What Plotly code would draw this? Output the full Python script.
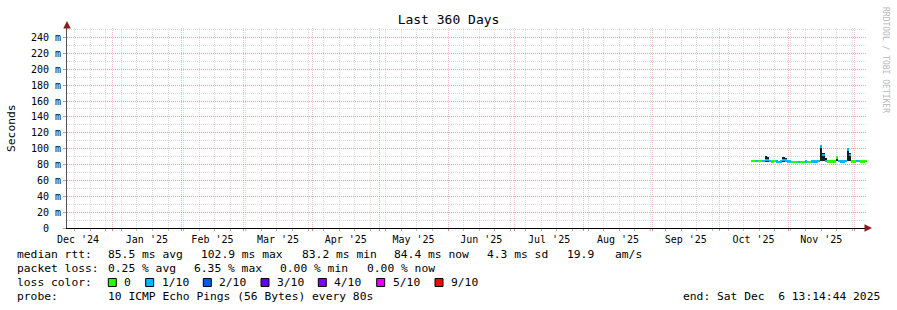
import plotly.graph_objects as go
import pandas as pd

# ---------------- data ----------------
range_start = "2024-12-11 13:14:44"
range_end = "2025-12-06 13:14:44"
first_sample = "2025-10-16"          # one consolidated sample per day

median_ms = [84.3, 84.5, 84.2, 84.6, 84.4, 84.1, 86.0, 85.5, 84.2, 84.0,
             84.3, 83.6, 83.5, 84.0, 86.0, 85.2, 84.0, 83.6, 83.4, 83.3,
             83.2, 83.5, 83.3, 83.4, 83.6, 83.3, 83.5, 83.6, 84.0, 83.8,
             84.4, 102.9, 92.0, 84.3, 83.8, 83.6, 83.9, 84.0, 89.0, 84.2,
             84.0, 83.8, 84.2, 99.0, 92.0, 84.0, 83.8, 84.1, 84.3, 83.9,
             84.0, 84.4]
loss_tenths = [0, 0, 1, 0, 0, 1, 1, 1, 1, 0,
               0, 1, 1, 1, 1, 1, 1, 1, 0, 0,
               0, 1, 0, 0, 1, 0, 0, 1, 1, 1,
               1, 1, 1, 1, 0, 0, 0, 0, 0, 1,
               1, 1, 1, 1, 1, 0, 0, 1, 1, 0,
               0, 0]
smoke_lo_ms = [83.6, 83.8, 83.5, 83.9, 83.7, 83.4, 83.2, 83.3, 83.5, 83.3,
               83.6, 82.9, 82.8, 83.3, 83.4, 83.4, 83.3, 82.9, 82.7, 82.6,
               82.5, 82.8, 82.6, 82.7, 82.9, 82.6, 82.8, 82.9, 83.3, 83.1,
               83.7, 84.0, 84.0, 83.6, 83.1, 82.9, 83.2, 83.3, 83.8, 83.5,
               83.3, 83.1, 83.5, 84.0, 84.0, 83.3, 83.1, 83.4, 83.6, 83.2,
               83.3, 83.7]
smoke_hi_ms = [85.0, 85.2, 84.9, 85.3, 85.1, 84.8, 90.6, 90.0, 84.9, 84.7,
               85.0, 84.3, 84.2, 84.7, 89.0, 88.0, 84.7, 84.3, 84.1, 84.0,
               83.9, 84.2, 84.0, 84.1, 84.3, 84.0, 84.2, 84.3, 84.7, 84.5,
               85.1, 104.5, 94.0, 88.0, 84.5, 84.3, 84.6, 84.7, 90.5, 84.9,
               84.7, 84.5, 84.9, 100.5, 94.0, 84.7, 84.5, 84.8, 85.0, 84.6,
               84.7, 85.1]

loss_levels = ["0", "1/10", "2/10", "3/10", "4/10", "5/10", "9/10"]
loss_level_tenths = [0, 1, 2, 3, 4, 5, 9]
loss_colors = ["#26ff00", "#00b8ff", "#0059ff", "#5e00ff", "#7e00ff", "#dd00ff", "#ff0000"]

y_tick_vals = [0, 20, 40, 60, 80, 100, 120, 140, 160, 180, 200, 220, 240]
y_tick_text = ["0\u00a0\u00a0"] + [f"{v} m" for v in y_tick_vals[1:]]

rtt_stats = ["85.5 ms avg", "102.9 ms max", "83.2 ms min", "84.4 ms now", "4.3 ms sd", "19.9", "am/s"]
loss_stats = ["0.25 % avg", "6.35 % max", "0.00 % min", "0.00 % now"]
probe_text = "10 ICMP Echo Pings (56 Bytes) every 80s"
end_text = "end: Sat Dec\u00a0\u00a06 13:14:44 2025"

# ---------------- layout helpers ----------------
W, H = 897, 310
PL, PR, PT, PB = 67, 867, 28, 228     # plot area in pixels


def px(x):
    return (x - PL) / (PR - PL)


def py(y):
    return (PB - y) / (PB - PT)


MONO = "DejaVu Sans Mono"
DAY_MS = 86400000

times = pd.date_range(first_sample, periods=len(median_ms), freq="D")
color_of = dict(zip(loss_level_tenths, loss_colors))

band = 3.0
fig = go.Figure()
fig.add_trace(go.Bar(
    x=times, base=smoke_lo_ms,
    y=[h - l for h, l in zip(smoke_hi_ms, smoke_lo_ms)],
    width=DAY_MS * 1.02, marker=dict(color="#1c1c1c", line=dict(width=0)),
    hoverinfo="skip"))
fig.add_trace(go.Bar(
    x=times, base=[m - band / 2 for m in median_ms], y=[band] * len(median_ms),
    width=DAY_MS * 1.02,
    marker=dict(color=[color_of[l] for l in loss_tenths], line=dict(width=0)),
    customdata=median_ms, hovertemplate="%{customdata} ms<extra></extra>"))

grid_major = "rgba(222,80,80,0.38)"
grid_minor = "rgba(143,143,143,0.32)"

fig.update_layout(
    width=W, height=H,
    margin=dict(l=PL, r=W - PR, t=PT, b=H - PB),
    paper_bgcolor="white", plot_bgcolor="white",
    barmode="overlay", bargap=0, showlegend=False,
    font=dict(family=MONO, color="black", size=10),
    title=dict(text="Last 360 Days", x=0.5, xref="container", xanchor="center",
               y=1 - 19 / H, yref="container", yanchor="middle",
               font=dict(family=MONO, size=13, color="black")),
    xaxis=dict(type="date", range=[range_start, range_end],
               tickmode="linear", tick0="2024-12-01", dtick="M1",
               tickformat="%b '%y", ticklabelmode="period",
               showgrid=True, gridcolor=grid_major, griddash="1px,1px", gridwidth=1,
               ticks="outside", ticklen=2, tickcolor="rgba(222,80,80,0.7)",
               minor=dict(tickmode="linear", tick0="2024-12-15", dtick=7 * DAY_MS,
                          showgrid=True, gridcolor=grid_minor, griddash="1px,1px",
                          ticks="outside", ticklen=2, tickcolor="rgba(143,143,143,0.6)"),
               showline=True, linecolor="#000000", linewidth=1, zeroline=False,
               tickfont=dict(family=MONO, size=10, color="black"), fixedrange=True),
    yaxis=dict(range=[0, 252], tickmode="array", tickvals=y_tick_vals, ticktext=y_tick_text,
               showgrid=True, gridcolor=grid_major, griddash="1px,1px", gridwidth=1,
               ticks="outside", ticklen=3, tickcolor="#aaaaaa",
               minor=dict(tickmode="linear", tick0=0, dtick=10,
                          showgrid=True, gridcolor=grid_minor, griddash="1px,1px",
                          ticks="", ticklen=2),
               showline=True, linecolor="#555555", linewidth=1, zeroline=False,
               tickfont=dict(family=MONO, size=10, color="black"), fixedrange=True),
)

ann = []
# axis arrows
ann.append(dict(x=px(67), y=py(21), xref="paper", yref="paper", text="", showarrow=True,
                ax=0, ay=7, arrowhead=2, arrowsize=1.5, arrowwidth=1, arrowcolor="#8b1a1a"))
ann.append(dict(x=px(872), y=py(228), xref="paper", yref="paper", text="", showarrow=True,
                ax=-7, ay=0, arrowhead=2, arrowsize=1.5, arrowwidth=1, arrowcolor="#8b1a1a"))
# y axis title
ann.append(dict(x=px(11), y=py(128), xref="paper", yref="paper", text="Seconds",
                textangle=-90, showarrow=False, xanchor="center", yanchor="middle",
                font=dict(family=MONO, size=11.3, color="black")))
# watermark
ann.append(dict(x=px(886), y=py(60), xref="paper", yref="paper", text="RRDTOOL / TOBI OETIKER",
                textangle=90, showarrow=False, xanchor="center", yanchor="middle",
                font=dict(family=MONO, size=8, color="#b8b8b8")))

LF = dict(family=MONO, size=11.3, color="black")


def text_at(x, y, s, anchor="left"):
    ann.append(dict(x=px(x), y=py(y), xref="paper", yref="paper", text=s, showarrow=False,
                    xanchor=anchor, yanchor="middle", borderpad=0, font=LF))


row_y = [254.5, 268.5, 282.5, 296.5]
text_at(16, row_y[0], "median rtt:")
for s, x in zip(rtt_stats, [107, 200, 301, 393, 485.5, 565.5, 614]):
    text_at(x, row_y[0], s)
text_at(16, row_y[1], "packet loss:")
for s, x in zip(loss_stats, [107, 192.5, 279, 365.5]):
    text_at(x, row_y[1], s)
text_at(16, row_y[2], "loss color:")
shapes = []
for lab, col, x in zip(loss_levels, loss_colors, [123.3, 160.7, 218.3, 276, 333.3, 391.7, 450]):
    text_at(x, row_y[2], lab)
    shapes.append(dict(type="rect", xref="paper", yref="paper",
                       x0=px(x - 15), x1=px(x - 7), y0=py(286.5), y1=py(278.5),
                       fillcolor=col, line=dict(color="black", width=1)))
text_at(16, row_y[3], "probe:")
text_at(107, row_y[3], probe_text)
text_at(881, row_y[3], end_text, anchor="right")

fig.update_layout(annotations=ann, shapes=shapes)
fig.write_html("out.html", config={"displayModeBar": False})
